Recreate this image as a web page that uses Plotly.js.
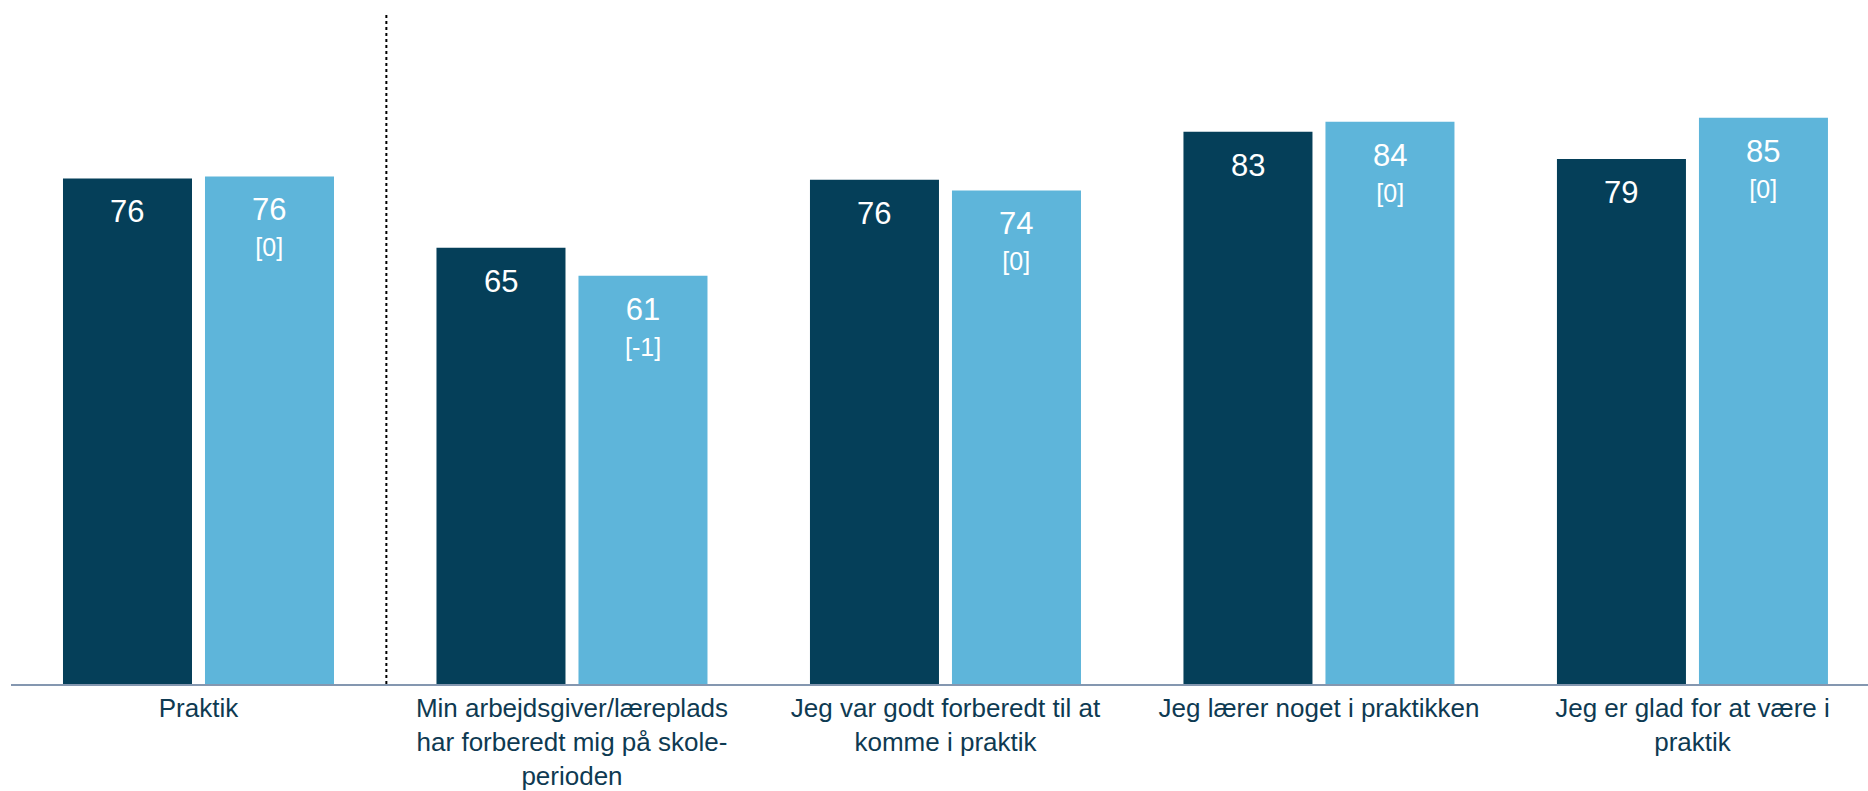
<!DOCTYPE html>
<html>
<head>
<meta charset="utf-8">
<script src="https://cdn.plot.ly/plotly-3.0.1.min.js"></script>
<style>html,body{margin:0;padding:0;background:#fff;}#chart{width:1868px;height:791px;}</style>
</head>
<body>
<div id="chart"></div>
<script>
var categories = [
  "Praktik",
  "Min arbejdsgiver/læreplads<br>har forberedt mig på skole-<br>perioden",
  "Jeg var godt forberedt til at<br>komme i praktik",
  "Jeg lærer noget i praktikken",
  "Jeg er glad for at være i<br>praktik"
];
var darkValues = [75.8, 65.4, 75.6, 82.8, 78.7];
var lightValues = [76.1, 61.2, 74.0, 84.3, 84.9];
var darkLabels = ["76", "65", "76", "83", "79"];
var lightLabels = ["76", "61", "74", "84", "85"];
var lightDiffs = ["[0]", "[-1]", "[0]", "[0]", "[0]"];

var darkColor = "#053F59";
var lightColor = "#5EB5DA";
var bargap = 0.2396, bargroupgap = 0.0915;

var idx = categories.map(function(_, i){ return i; });

var traces = [
  {type: "bar", x: idx, y: darkValues, marker: {color: darkColor}, hoverinfo: "skip", showlegend: false},
  {type: "bar", x: idx, y: lightValues, marker: {color: lightColor}, hoverinfo: "skip", showlegend: false}
];

var slot = (1 - bargap) / 2;
var off = slot / 2;
var labelFont = {family: "Liberation Sans, Arial, sans-serif", size: 28, color: "#ffffff"};
var annotations = [];
idx.forEach(function(i){
  annotations.push({x: i - off, y: darkValues[i], xref: "x", yref: "y", yanchor: "top", yshift: -14,
    text: "<span style='font-size:31px'>" + darkLabels[i] + "</span>", showarrow: false, font: labelFont});
  annotations.push({x: i + off, y: lightValues[i], xref: "x", yref: "y", yanchor: "top", yshift: -14,
    text: "<span style='font-size:31px'>" + lightLabels[i] + "</span><br><span style='font-size:25px'>" + lightDiffs[i] + "</span>",
    showarrow: false, font: labelFont});
});

var layout = {
  width: 1868, height: 791,
  margin: {l: 11, r: 0, t: 17, b: 107},
  paper_bgcolor: "#ffffff", plot_bgcolor: "#ffffff",
  barmode: "group", bargap: bargap, bargroupgap: bargroupgap,
  xaxis: {
    range: [-0.502, 4.47], tickmode: "array", tickvals: idx, ticktext: categories,
    showgrid: false, zeroline: false, showline: true, linecolor: "#8497B0", linewidth: 2,
    ticks: "", tickfont: {family: "Liberation Sans, Arial, sans-serif", size: 26, color: "#0E3A52"}
  },
  yaxis: {range: [0, 100], visible: false, showgrid: false, zeroline: false},
  shapes: [{type: "line", xref: "x", yref: "paper", x0: 0.503, x1: 0.503, y0: 0, y1: 1.006,
    line: {color: "#000000", width: 2, dash: "dot"}}],
  annotations: annotations
};

Plotly.newPlot("chart", traces, layout, {displayModeBar: false, staticPlot: true});
</script>
</body>
</html>
